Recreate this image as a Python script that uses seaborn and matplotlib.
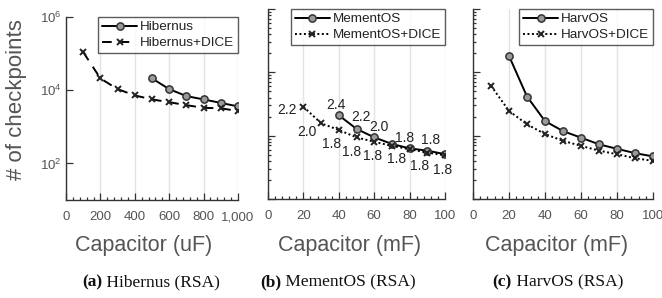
import numpy as np
import pandas as pd
import matplotlib
matplotlib.use("Agg")
import matplotlib.pyplot as plt
import matplotlib.ticker as mticker
import seaborn as sns

sns.set_theme(style="white")
plt.rcParams['font.family'] = ['Liberation Sans', 'DejaVu Sans']
plt.rcParams['mathtext.fontset'] = 'custom'
plt.rcParams['mathtext.rm'] = 'Liberation Sans'
plt.rcParams['mathtext.it'] = 'Liberation Sans:italic'
plt.rcParams['mathtext.bf'] = 'Liberation Sans:bold'

# ---------------- data ----------------
hib_x = [500, 600, 700, 800, 900, 1000]
hib_y = [21000, 10700, 6900, 5600, 4500, 3600]
hibd_x = [100, 200, 300, 400, 500, 600, 700, 800, 900, 1000]
hibd_y = [110000, 21000, 10700, 7200, 5600, 4700, 3900, 3300, 3200, 2700]

mem_x = [40, 50, 60, 70, 80, 90, 100]
mem_y = [210, 128, 94, 74, 63, 58, 51]
memd_x = [20, 30, 40, 50, 60, 70, 80, 90, 100]
memd_y = [286, 157, 123, 94, 80, 69, 61, 54, 49]

# energy-ratio annotations (panel b)
mem_lab_x = [40, 50, 60, 80, 90]
mem_lab = ["2.4", "2.2", "2.0", "1.8", "1.8"]
memd_lab_x = [20, 30, 40, 50, 60, 70, 90, 100]
memd_lab = ["2.2", "2.0", "1.8", "1.8", "1.8", "1.8", "1.8", "1.8"]

harv_x = [20, 30, 40, 50, 60, 70, 80, 90, 100]
harv_y = [1820, 415, 170, 118, 93, 73, 62, 53, 47]
harvd_x = [10, 20, 30, 40, 50, 60, 70, 80, 90, 100]
harvd_y = [614, 246, 151, 106, 83, 69, 58, 51, 44, 40]

# styling
mem_off = [(-3, 10), (4, 12), (5, 10), (-5, 10), (3, 11)]
memd_off = [(-16, -3), (-14, -9), (-7, -14), (-5, -15), (-2, -14), (5, -13), (-8, -13), (-2, -15)]

W, H = 662, 298
fig = plt.figure(figsize=(W / 100, H / 100), dpi=100)

def frac(l, t, r, b):
    return [l / W, 1 - b / H, (r - l) / W, (b - t) / H]

axa = fig.add_axes(frac(66, 17, 238, 200))
axb = fig.add_axes(frac(268, 9, 445, 199))
axc = fig.add_axes(frac(473, 9, 653, 199))

TXT = "#555555"
SP = "#333333"
circ = dict(marker="o", markersize=5.2, markerfacecolor="#9a9a9a",
            markeredgecolor="#333333", markeredgewidth=1.1)
xm = dict(marker="x", markersize=4.2, markeredgewidth=1.4, markeredgecolor="#222222")

def draw(ax, x1, y1, n1, x2, y2, n2, ls2):
    sns.lineplot(x=x1, y=y1, ax=ax, color="black", linewidth=1.4, label=n1, **circ)
    sns.lineplot(x=x2, y=y2, ax=ax, color="black", linewidth=1.4,
                 linestyle=ls2, label=n2, **xm)

draw(axa, hib_x, hib_y, "Hibernus", hibd_x, hibd_y, "Hibernus+DICE", (0, (5, 4)))
draw(axb, mem_x, mem_y, "MementOS", memd_x, memd_y, "MementOS+DICE", (0, (1, 1.3)))
draw(axc, harv_x, harv_y, "HarvOS", harvd_x, harvd_y, "HarvOS+DICE", (0, (1, 1.3)))

for ax in (axa, axb, axc):
    ax.set_yscale("log")
    ax.set_xlabel("")
    ax.set_ylabel("")
    for s in ("top", "right"):
        ax.spines[s].set_visible(False)
    for s in ("left", "bottom"):
        ax.spines[s].set_color(SP)
        ax.spines[s].set_linewidth(1.0)
    ax.grid(axis="x", color="#e3e3e3", linewidth=1.0)
    ax.grid(axis="y", visible=False)
    ax.tick_params(axis="both", which="both", direction="in", colors=SP,
                   labelcolor=TXT, labelsize=9.5, bottom=True, left=True,
                   top=False, right=False, width=0.9)
    ax.tick_params(axis="x", which="major", length=5, pad=8)
    ax.tick_params(axis="x", which="minor", length=2.5)
    ax.tick_params(axis="y", which="major", length=5, pad=3)
    ax.tick_params(axis="y", which="minor", length=2.5)
    ax.set_axisbelow(True)
    leg = ax.legend(loc="upper right", bbox_to_anchor=(1.0, 1.0), borderaxespad=0,
                    frameon=True, fancybox=False, fontsize=9.7, handlelength=2.6,
                    handletextpad=0.2, borderpad=0.3, labelspacing=0.25)
    leg.get_frame().set_edgecolor("#333333")
    leg.get_frame().set_linewidth(1.0)
    for t in leg.get_texts():
        t.set_color("#222222")

axa.set_xlim(0, 1000)
axa.set_ylim(10, 1e6)
axa.xaxis.set_major_locator(mticker.MultipleLocator(200))
axa.xaxis.set_minor_locator(mticker.MultipleLocator(40))
axa.xaxis.set_major_formatter(mticker.FuncFormatter(lambda v, p: f"{int(v):,}"))
axa.yaxis.set_major_locator(mticker.FixedLocator([1e2, 1e4, 1e6]))
axa.yaxis.set_minor_locator(mticker.NullLocator())
axa.yaxis.set_major_formatter(mticker.LogFormatterMathtext())

for ax in (axb, axc):
    ax.set_xlim(0, 100)
    ax.set_ylim(10, 1e4)
    ax.xaxis.set_major_locator(mticker.MultipleLocator(20))
    ax.xaxis.set_minor_locator(mticker.MultipleLocator(4))
    ax.yaxis.set_major_locator(mticker.LogLocator(base=10, numticks=10))
    ax.yaxis.set_minor_locator(mticker.LogLocator(base=10, subs=np.arange(2, 10), numticks=10))
    ax.yaxis.set_major_formatter(mticker.NullFormatter())
    ax.yaxis.set_minor_formatter(mticker.NullFormatter())

# annotations panel b
for xv, lab, off in zip(mem_lab_x, mem_lab, mem_off):
    yv = mem_y[mem_x.index(xv)]
    axb.annotate(lab, (xv, yv), xytext=off, textcoords="offset pixels",
                 ha="center", va="center", fontsize=10, color="#222222",
                 annotation_clip=False)
for xv, lab, off in zip(memd_lab_x, memd_lab, memd_off):
    yv = memd_y[memd_x.index(xv)]
    axb.annotate(lab, (xv, yv), xytext=off, textcoords="offset pixels",
                 ha="center", va="center", fontsize=10, color="#222222",
                 annotation_clip=False)

# axis titles
fig.text(17 / W, 1 - 100 / H, "# of checkpoints", rotation=90, ha="center",
         va="center", fontsize=16, color=TXT)
for xc, lab in [(144, "Capacitor (uF)"), (350, "Capacitor (mF)"), (557, "Capacitor (mF)")]:
    fig.text(xc / W, 1 - 245 / H, lab, ha="center", va="center", fontsize=15.5, color=TXT)

# captions with bold prefix
fig.canvas.draw()
r = fig.canvas.get_renderer()
cap_font = ['Liberation Serif', 'DejaVu Serif']
for xc, pre, rest in [(151, "(a)", " Hibernus (RSA)"), (338, "(b)", " MementOS (RSA)"),
                      (558, "(c)", " HarvOS (RSA)")]:
    t1 = fig.text(0, 0, pre, fontsize=12.5, fontweight="bold", family=cap_font)
    t2 = fig.text(0, 0, rest, fontsize=12.5, family=cap_font)
    w1 = t1.get_window_extent(r).width
    w2 = t2.get_window_extent(r).width
    x0 = xc - (w1 + w2) / 2
    yb = 1 - 286 / H
    t1.set_position((x0 / W, yb))
    t2.set_position(((x0 + w1) / W, yb))
    t1.set_color("#111111")
    t2.set_color("#111111")

fig.savefig("out.png", dpi=100)
